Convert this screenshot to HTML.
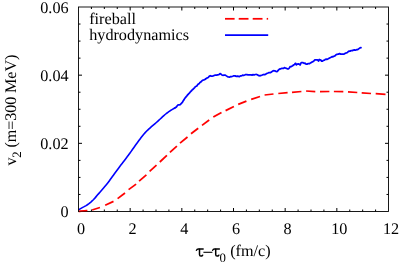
<!DOCTYPE html>
<html><head><meta charset="utf-8">
<style>
html,body{margin:0;padding:0;background:#fff;}
svg{display:block;will-change:transform;}
text{font-family:"Liberation Serif",serif;font-size:16.2px;fill:#000;text-rendering:geometricPrecision;}
</style></head>
<body>
<svg width="399" height="262" viewBox="0 0 399 262">
<rect x="0" y="0" width="399" height="262" fill="#fff"/>
<g stroke="#ff0000" stroke-width="1.75" fill="none">
<line x1="78.5" y1="211.3" x2="87.3" y2="210.6"/>
<line x1="92.1" y1="210" x2="99.9" y2="207.5"/>
<line x1="105.2" y1="205.2" x2="113.5" y2="201.4"/>
<line x1="117.6" y1="198.6" x2="125" y2="193"/>
<line x1="128.6" y1="189.6" x2="136.1" y2="184.1"/>
<line x1="139.1" y1="181.1" x2="146.4" y2="174.8"/>
<line x1="149.6" y1="171.3" x2="156.5" y2="165.1"/>
<line x1="159.8" y1="162" x2="166.9" y2="155.3"/>
<line x1="169.9" y1="152.4" x2="176.9" y2="146.1"/>
<line x1="180" y1="143.1" x2="187.5" y2="137"/>
<line x1="191" y1="133.7" x2="198.2" y2="128.2"/>
<line x1="202" y1="125.4" x2="209.2" y2="120"/>
<line x1="213.3" y1="117.1" x2="221.5" y2="112.4"/>
<line x1="225.6" y1="110.6" x2="233.9" y2="106.5"/>
<line x1="238.2" y1="104.4" x2="246.4" y2="101.1"/>
<line x1="251.2" y1="99.3" x2="260" y2="96.5"/>
<line x1="264.6" y1="95" x2="273.5" y2="94"/>
<line x1="278.3" y1="93.5" x2="287.6" y2="92.6"/>
<line x1="292" y1="92.3" x2="301.4" y2="91.5"/>
<line x1="306.1" y1="91" x2="315.3" y2="91.6"/>
<line x1="320" y1="91.7" x2="329.4" y2="91.5"/>
<line x1="333.9" y1="91.5" x2="343.3" y2="91.6"/>
<line x1="348" y1="91.8" x2="357.3" y2="92.5"/>
<line x1="361.7" y1="92.8" x2="371" y2="93.5"/>
<line x1="375.7" y1="93.6" x2="385.5" y2="94.4"/>
<line x1="225" y1="18.8" x2="234.6" y2="18.8"/>
<line x1="238.7" y1="18.8" x2="248.5" y2="18.8"/>
<line x1="252.7" y1="18.8" x2="262.5" y2="18.8"/>
<line x1="266.7" y1="18.8" x2="268.1" y2="18.8"/>
</g>
<polyline points="79.30,209.40 80.56,208.62 82.30,207.60 84.15,206.66 86.10,205.60 87.37,204.74 88.64,203.80 89.90,202.80 91.14,201.78 92.36,200.70 93.60,199.50 94.86,198.11 96.13,196.61 97.40,195.10 98.67,193.63 99.93,192.17 101.20,190.70 102.49,189.22 103.77,187.74 105.00,186.30 106.10,184.98 107.14,183.69 108.30,182.20 109.26,180.91 110.26,179.53 111.36,178.01 112.60,176.30 113.40,175.21 114.25,174.03 115.16,172.79 116.10,171.51 117.04,170.21 117.98,168.94 118.90,167.70 119.97,166.28 121.06,164.84 122.14,163.41 123.21,162.01 124.24,160.67 125.20,159.40 126.30,157.94 127.36,156.54 128.35,155.22 129.24,154.03 130.00,153.00 131.16,151.36 132.10,150.00 132.96,148.79 133.92,147.44 135.10,145.80 135.97,144.58 136.95,143.21 138.00,141.75 139.06,140.28 140.10,138.90 141.12,137.58 142.14,136.26 143.16,134.98 144.18,133.75 145.20,132.60 146.46,131.28 147.71,130.07 148.96,128.92 150.20,127.80 151.43,126.72 152.64,125.69 153.86,124.66 155.10,123.60 156.37,122.48 157.65,121.32 158.93,120.15 160.20,119.00 161.44,117.85 162.66,116.69 163.87,115.57 165.10,114.50 166.34,113.50 167.59,112.56 168.84,111.66 170.10,110.80 171.98,109.61 173.87,108.48 175.20,107.70" fill="none" stroke="#0000ff" stroke-width="1.6" stroke-linejoin="round" stroke-linecap="round"/>
<polyline points="175.20,107.70 176.40,106.90 177.05,105.95 177.70,105.20 178.95,104.77 180.20,104.60 181.15,103.61 182.10,102.70 182.70,101.76 183.30,100.68 183.90,99.86 184.50,98.81 185.10,98.00 185.80,97.14 186.50,96.42 187.20,95.37 187.90,94.56 188.60,93.80 189.34,93.13 190.08,92.22 190.82,91.37 191.56,90.74 192.30,89.80 193.10,89.19 193.90,88.30 194.70,87.53 195.50,86.58 196.30,86.20 197.06,85.72 197.82,84.39 198.58,83.99 199.34,83.29 200.10,82.40 201.05,81.82 202.00,80.76 202.95,80.13 203.90,79.90 204.85,79.54 205.80,78.78 206.75,78.16 207.70,77.80 208.53,77.06 209.37,76.22 210.20,75.70 211.15,76.08 212.10,76.10 213.13,75.83 214.17,75.46 215.20,75.10 216.45,75.16 217.70,74.80 218.85,74.63 220.00,73.60 220.93,74.09 221.87,74.96 222.80,75.30 224.05,75.19 225.30,75.10 226.37,75.88 227.43,76.60 228.50,77.00 229.53,77.20 230.57,76.57 231.60,76.60 232.70,76.28 233.80,75.80 235.07,75.89 236.33,76.37 237.60,76.20 238.50,76.43 239.40,76.70 240.47,75.80 241.53,75.88 242.60,75.20 243.63,75.41 244.67,75.02 245.70,74.50 246.77,74.50 247.83,74.85 248.90,74.80 249.93,74.90 250.97,74.77 252.00,75.20 253.07,74.57 254.13,74.97 255.20,74.50 256.45,74.47 257.70,74.90 258.95,75.68 260.20,75.80 261.27,75.32 262.33,74.98 263.40,74.50 264.65,74.59 265.90,74.10 266.93,73.40 267.97,73.02 269.00,72.60 270.30,72.65 271.60,72.00 272.55,71.04 273.50,70.70 274.75,70.81 276.00,71.40 277.00,71.70 277.80,70.95 278.60,69.82 279.40,69.20 280.47,68.83 281.53,68.48 282.60,68.30 283.50,68.41 284.40,67.70 285.35,68.01 286.30,68.30 287.25,68.76 288.20,68.90 288.83,68.53 289.47,67.69 290.10,66.70 291.35,66.52 292.60,65.80 293.55,65.06 294.50,64.50 295.40,63.30 295.90,63.71 296.40,64.90 297.35,64.14 298.30,63.90 299.25,64.26 300.20,64.90 300.80,63.30 301.40,62.60 302.70,62.59 304.00,63.30 305.03,63.14 306.07,64.17 307.10,64.10 308.35,63.53 309.60,63.60 310.47,62.93 311.33,62.41 312.20,62.00 313.03,61.61 313.87,61.04 314.70,59.90 315.95,59.89 317.20,59.90 317.85,60.14 318.50,61.10 318.90,60.09 319.30,59.50 320.07,59.73 320.83,60.14 321.60,61.10 322.50,61.20 323.45,60.38 324.40,60.24 325.35,59.27 326.30,59.20 327.25,59.26 328.20,58.78 329.15,58.25 330.10,57.70 331.05,57.21 332.00,56.65 332.95,56.82 333.90,56.20 334.93,55.82 335.97,54.78 337.00,54.30 338.25,54.23 339.50,53.60 340.77,54.08 342.03,54.21 343.30,54.10 344.33,53.95 345.37,53.12 346.40,53.00 347.35,52.40 348.30,51.63 349.25,51.15 350.20,51.10 351.27,50.55 352.33,50.61 353.40,50.10 354.43,49.92 355.47,50.23 356.50,49.70 357.75,49.56 359.00,48.60 360.00,47.85 361.00,47.60" fill="none" stroke="#0000ff" stroke-width="1.75" stroke-linejoin="round" stroke-linecap="round"/>
<line x1="225" y1="35.1" x2="268.2" y2="35.1" stroke="#0000ff" stroke-width="1.8"/>
<g stroke="#000" stroke-width="1" fill="none">
<rect x="78.5" y="7.0" width="310.0" height="204.5" stroke-width="0.9"/>
<line x1="91.42" y1="211.5" x2="91.42" y2="209.5"/>
<line x1="91.42" y1="7.0" x2="91.42" y2="9.0"/>
<line x1="104.33" y1="211.5" x2="104.33" y2="209.5"/>
<line x1="104.33" y1="7.0" x2="104.33" y2="9.0"/>
<line x1="117.25" y1="211.5" x2="117.25" y2="209.5"/>
<line x1="117.25" y1="7.0" x2="117.25" y2="9.0"/>
<line x1="130.17" y1="211.5" x2="130.17" y2="208.0"/>
<line x1="130.17" y1="7.0" x2="130.17" y2="10.5"/>
<line x1="143.08" y1="211.5" x2="143.08" y2="209.5"/>
<line x1="143.08" y1="7.0" x2="143.08" y2="9.0"/>
<line x1="156.00" y1="211.5" x2="156.00" y2="209.5"/>
<line x1="156.00" y1="7.0" x2="156.00" y2="9.0"/>
<line x1="168.92" y1="211.5" x2="168.92" y2="209.5"/>
<line x1="168.92" y1="7.0" x2="168.92" y2="9.0"/>
<line x1="181.83" y1="211.5" x2="181.83" y2="208.0"/>
<line x1="181.83" y1="7.0" x2="181.83" y2="10.5"/>
<line x1="194.75" y1="211.5" x2="194.75" y2="209.5"/>
<line x1="194.75" y1="7.0" x2="194.75" y2="9.0"/>
<line x1="207.67" y1="211.5" x2="207.67" y2="209.5"/>
<line x1="207.67" y1="7.0" x2="207.67" y2="9.0"/>
<line x1="220.58" y1="211.5" x2="220.58" y2="209.5"/>
<line x1="220.58" y1="7.0" x2="220.58" y2="9.0"/>
<line x1="233.50" y1="211.5" x2="233.50" y2="208.0"/>
<line x1="233.50" y1="7.0" x2="233.50" y2="10.5"/>
<line x1="246.42" y1="211.5" x2="246.42" y2="209.5"/>
<line x1="246.42" y1="7.0" x2="246.42" y2="9.0"/>
<line x1="259.33" y1="211.5" x2="259.33" y2="209.5"/>
<line x1="259.33" y1="7.0" x2="259.33" y2="9.0"/>
<line x1="272.25" y1="211.5" x2="272.25" y2="209.5"/>
<line x1="272.25" y1="7.0" x2="272.25" y2="9.0"/>
<line x1="285.17" y1="211.5" x2="285.17" y2="208.0"/>
<line x1="285.17" y1="7.0" x2="285.17" y2="10.5"/>
<line x1="298.08" y1="211.5" x2="298.08" y2="209.5"/>
<line x1="298.08" y1="7.0" x2="298.08" y2="9.0"/>
<line x1="311.00" y1="211.5" x2="311.00" y2="209.5"/>
<line x1="311.00" y1="7.0" x2="311.00" y2="9.0"/>
<line x1="323.92" y1="211.5" x2="323.92" y2="209.5"/>
<line x1="323.92" y1="7.0" x2="323.92" y2="9.0"/>
<line x1="336.83" y1="211.5" x2="336.83" y2="208.0"/>
<line x1="336.83" y1="7.0" x2="336.83" y2="10.5"/>
<line x1="349.75" y1="211.5" x2="349.75" y2="209.5"/>
<line x1="349.75" y1="7.0" x2="349.75" y2="9.0"/>
<line x1="362.67" y1="211.5" x2="362.67" y2="209.5"/>
<line x1="362.67" y1="7.0" x2="362.67" y2="9.0"/>
<line x1="375.58" y1="211.5" x2="375.58" y2="209.5"/>
<line x1="375.58" y1="7.0" x2="375.58" y2="9.0"/>
<line x1="78.5" y1="194.46" x2="80.5" y2="194.46"/>
<line x1="388.5" y1="194.46" x2="386.5" y2="194.46"/>
<line x1="78.5" y1="177.42" x2="80.5" y2="177.42"/>
<line x1="388.5" y1="177.42" x2="386.5" y2="177.42"/>
<line x1="78.5" y1="160.38" x2="80.5" y2="160.38"/>
<line x1="388.5" y1="160.38" x2="386.5" y2="160.38"/>
<line x1="78.5" y1="143.33" x2="82.0" y2="143.33"/>
<line x1="388.5" y1="143.33" x2="385.0" y2="143.33"/>
<line x1="78.5" y1="126.29" x2="80.5" y2="126.29"/>
<line x1="388.5" y1="126.29" x2="386.5" y2="126.29"/>
<line x1="78.5" y1="109.25" x2="80.5" y2="109.25"/>
<line x1="388.5" y1="109.25" x2="386.5" y2="109.25"/>
<line x1="78.5" y1="92.21" x2="80.5" y2="92.21"/>
<line x1="388.5" y1="92.21" x2="386.5" y2="92.21"/>
<line x1="78.5" y1="75.17" x2="82.0" y2="75.17"/>
<line x1="388.5" y1="75.17" x2="385.0" y2="75.17"/>
<line x1="78.5" y1="58.13" x2="80.5" y2="58.13"/>
<line x1="388.5" y1="58.13" x2="386.5" y2="58.13"/>
<line x1="78.5" y1="41.08" x2="80.5" y2="41.08"/>
<line x1="388.5" y1="41.08" x2="386.5" y2="41.08"/>
<line x1="78.5" y1="24.04" x2="80.5" y2="24.04"/>
<line x1="388.5" y1="24.04" x2="386.5" y2="24.04"/>
</g>
<line x1="79" y1="211.3" x2="87.3" y2="210.7" stroke="#ff0000" stroke-width="1.75" opacity="0.5"/>
<text x="89.2" y="23.6">fireball</text>
<text x="89.2" y="40.2">hydrodynamics</text>
<text x="81.00" y="233.9" text-anchor="middle">0</text>
<text x="132.67" y="233.9" text-anchor="middle">2</text>
<text x="184.33" y="233.9" text-anchor="middle">4</text>
<text x="236.00" y="233.9" text-anchor="middle">6</text>
<text x="287.67" y="233.9" text-anchor="middle">8</text>
<text x="339.33" y="233.9" text-anchor="middle">10</text>
<text x="391.00" y="233.9" text-anchor="middle">12</text>
<text x="68.6" y="217.20" text-anchor="end">0</text>
<text x="68.6" y="149.03" text-anchor="end">0.02</text>
<text x="68.6" y="80.87" text-anchor="end">0.04</text>
<text x="68.6" y="12.70" text-anchor="end">0.06</text>
<g id="xlabel">
<g transform="translate(0,0)" fill="none" stroke="#000" stroke-linecap="round" stroke-linejoin="round"><path d="M196.4,250.4 Q196.9,248.95 198.3,248.95 L203.2,248.95" stroke-width="1.35"/><path d="M199.5,249.2 L199.5,254.4 Q199.5,256.1 200.9,256.1 Q201.9,256.1 202.6,255.2" stroke-width="1.5"/></g>
<line x1="203.4" y1="252.3" x2="212.4" y2="252.3" stroke="#000" stroke-width="1.1"/>
<g transform="translate(16.2,0)" fill="none" stroke="#000" stroke-linecap="round" stroke-linejoin="round"><path d="M196.4,250.4 Q196.9,248.95 198.3,248.95 L203.2,248.95" stroke-width="1.35"/><path d="M199.5,249.2 L199.5,254.4 Q199.5,256.1 200.9,256.1 Q201.9,256.1 202.6,255.2" stroke-width="1.5"/></g>
<text x="219.5" y="261.6" style="font-size:12.8px">0</text>
<text x="230.2" y="256.1">(fm/c)</text>
</g>
<text transform="translate(15.8,165.6) rotate(-90)" textLength="111" lengthAdjust="spacing">v<tspan dy="5" font-size="12.8">2</tspan><tspan dy="-5"> (m=300 MeV)</tspan></text>
</svg>
</body></html>
